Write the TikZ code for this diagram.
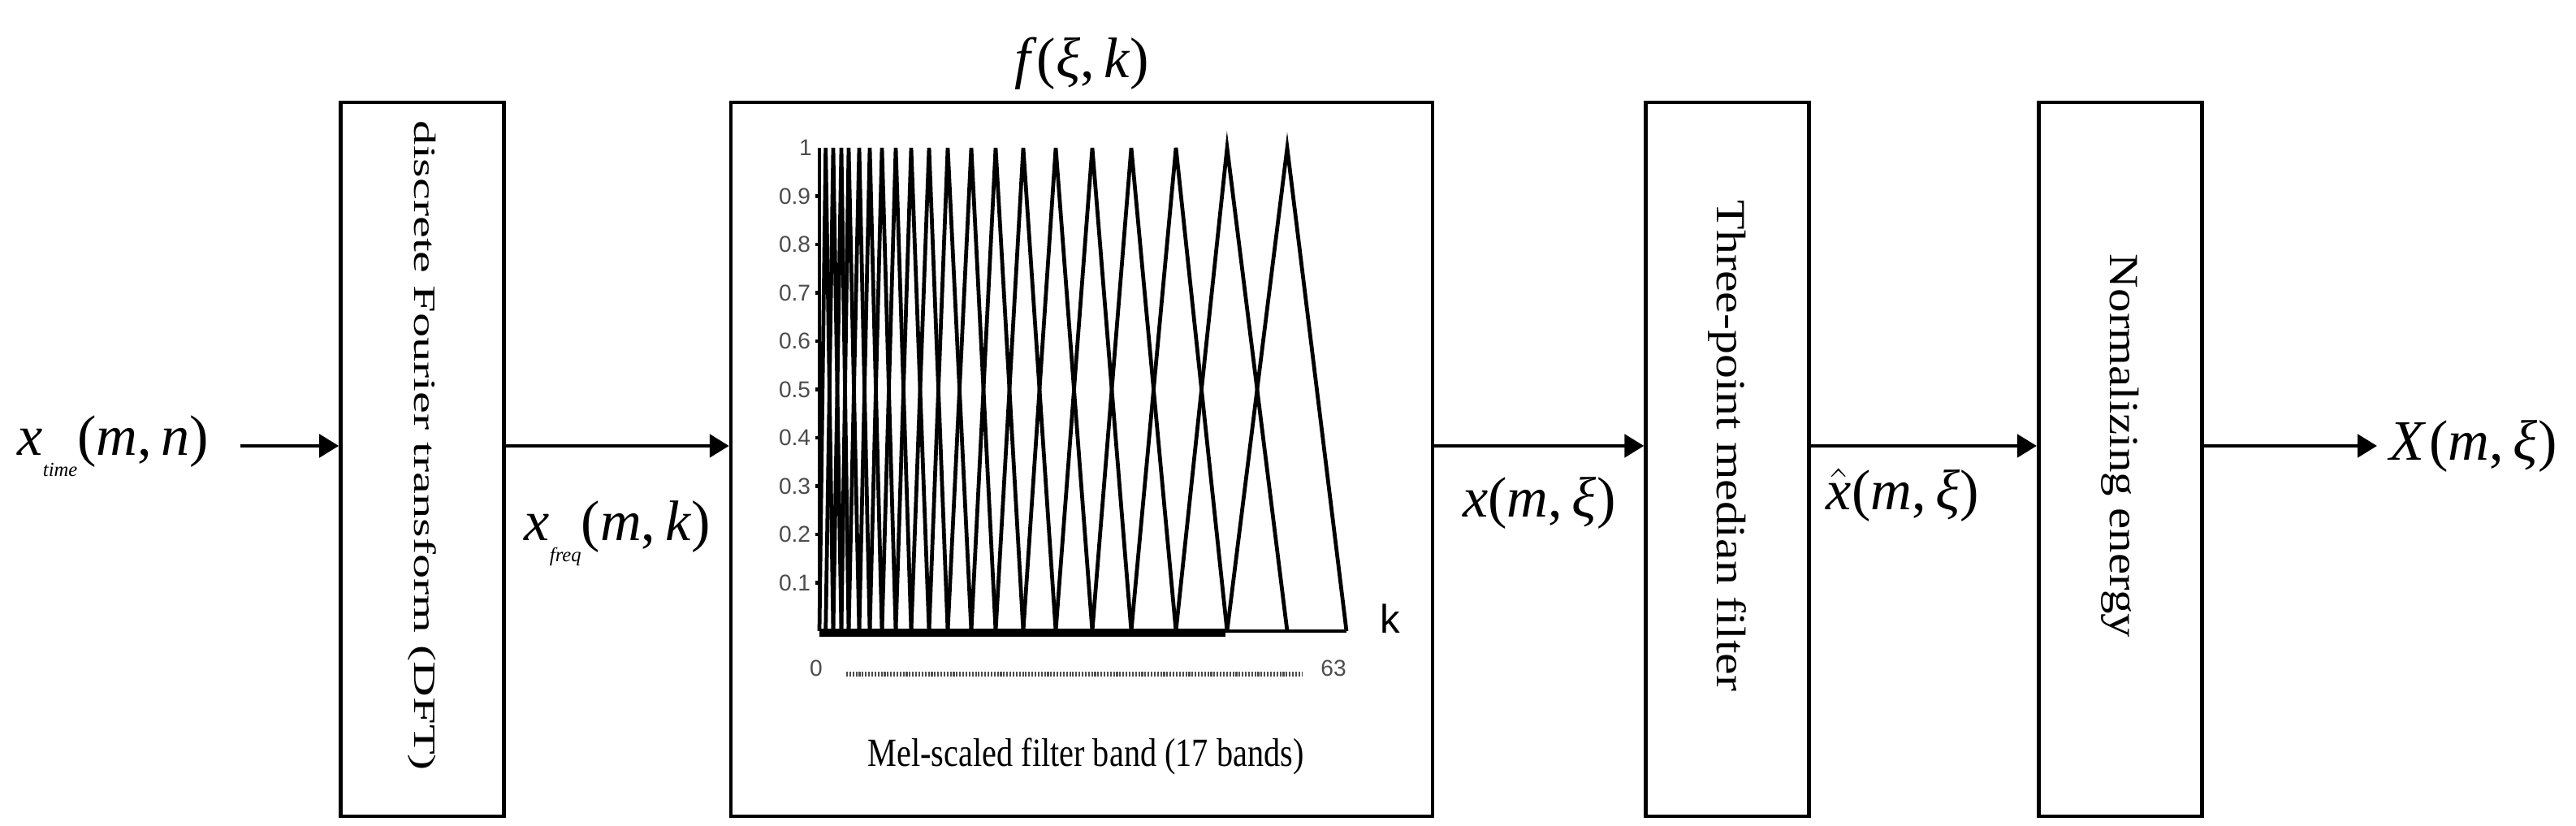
\documentclass[tikz,border=0pt]{standalone}
\usepackage{fontspec}
\setmainfont{Liberation Serif}[ItalicFont={Liberation Serif Italic}]
\setsansfont{Liberation Sans}
\usepackage{graphicx}
\usetikzlibrary{arrows.meta, positioning}

% stretch a text to a given length, keep its height
\newcommand{\stretchto}[2]{\resizebox{#1}{\height}{#2}}
\newcommand{\lowsub}[1]{\raisebox{-7.5pt}{\fontsize{7}{7}\selectfont\textit{#1}}}

\begin{document}
\begin{tikzpicture}[node distance=2.75cm,
		blk/.style={rectangle, draw, line width=1.3pt, minimum width=2.01cm,
			minimum height=8.79cm, inner sep=0pt},
		sig/.style={-{Triangle[length=0.24cm,width=0.28cm]}, line width=1.4pt},
		lbl/.style={font=\fontsize{20}{24}\selectfont, inner sep=0pt},
		boxtxt/.style={rotate=-90, inner sep=0pt},
		tick/.style={font=\sffamily\fontsize{8}{9}\selectfont, text=black!70,
			inner sep=1pt, anchor=east},
		band/.style={line width=1.35pt}]
	
	\useasboundingbox (0,0) rectangle (31.72,10.17);
	
	% blocks
	\node[blk] (dft) at (5.20,4.515) {};
	\node[blk, minimum width=8.64cm, right=2.75cm of dft] (mel) {};
	\node[blk, right=2.58cm of mel] (med) {};
	\node[blk, right=2.78cm of med] (norm) {};
	
	% signal level
	\coordinate (in) at (2.96,4.68);
	\coordinate (out) at (29.27,4.68);
	
	\node[boxtxt, font=\fontsize{10.8}{13}\selectfont] (dfttxt) at (dft |- in)
		{\stretchto{8.0cm}{discrete Fourier transform (DFT)}};
	\node[boxtxt, font=\fontsize{14.5}{17}\selectfont] (medtxt) at (med |- in)
		{\stretchto{6.04cm}{Three-point median filter}};
	\node[boxtxt, font=\fontsize{14.5}{17}\selectfont] (normtxt) at (norm |- in)
		{\stretchto{4.72cm}{Normalizing energy}};
	
	% filter bank plot
	\begin{scope}[shift={(10.09,2.40)}]
		\foreach \a/\b/\c in {0/0.077/0.17, 0.077/0.17/0.27, 0.17/0.27/0.36,
				0.27/0.36/0.49, 0.36/0.49/0.62, 0.49/0.62/0.77, 0.62/0.77/0.94,
				0.77/0.94/1.13, 0.94/1.13/1.35, 1.13/1.35/1.58, 1.35/1.58/1.87,
				1.58/1.87/2.17, 1.87/2.17/2.51, 2.17/2.51/2.91, 2.51/2.91/3.36,
				2.91/3.36/3.84, 3.36/3.84/4.39, 3.84/4.39/5.02, 4.39/5.02/5.76,
				5.02/5.76/6.49}
			\draw[band] (\a,0) -- (\b,5.95) -- (\c,0);
		\draw[band] (0,0) -- (0,5.95);
		\draw[band] (0,0) -- (6.49,0);
		\draw[line width=2.6pt] (0,-0.02) -- (5.00,-0.02);
		\foreach \v in {1,...,9}
			\draw[band] (0,0.595*\v) -- (-0.05,0.595*\v) node[tick] (t\v) {0.\v};
		\node[tick] (t10) at (-0.05,5.95) {1};
		\node[font=\sffamily\fontsize{14}{16}\selectfont, inner sep=0pt] (kax) at (7.03,0.15) {k};
		\node[tick, anchor=center, inner sep=0pt] (k0) at (-0.04,-0.46) {0};
		\node[tick, anchor=center, inner sep=0pt] (k63) at (6.33,-0.46) {63};
		\coordinate (d0) at (0.33,-0.53);
		\coordinate (d1) at (5.95,-0.53);
		\draw[black!70, line width=1.6pt, dash pattern=on 0.6pt off 0.5pt] (d0) -- (d1);
	\end{scope}
	\node[font=\fontsize{14}{17}\selectfont, inner sep=0pt] (meltxt) at (13.37,0.86)
		{\stretchto{5.37cm}{Mel-scaled filter band (17 bands)}};
	
	% signals
	\node[lbl, left=0.38cm of in] (xtime) {\textit{x}\lowsub{time}(\textit{m},\,\textit{n})};
	\node[lbl, above=0.13cm of mel] (fxk) {\textit{f}(\textit{ξ},\,\textit{k})};
	\node[lbl, right=0.15cm of out] (xout) {\textit{X}\kern1pt(\textit{m},\,\textit{ξ})};
	
	\draw[sig] (in) -- (dft.west |- in);
	\draw[sig] (dft.east |- in) -- node[lbl, below=0.65cm] (xfreq) {\textit{x}\lowsub{freq}(\textit{m},\,\textit{k})} (mel.west |- in);
	\draw[sig] (mel.east |- in) -- node[lbl, below=0.36cm] (xmel) {\textit{x}(\textit{m},\,\textit{ξ})} (med.west |- in);
	\draw[sig] (med.east |- in) -- node[lbl, below=0.25cm, xshift=-0.26cm] (xmed) {$\hat{\mathit{x}}$(\textit{m},\,\textit{ξ})} (norm.west |- in);
	\draw[sig] (norm.east |- in) -- (out);
\end{tikzpicture}
\end{document}
